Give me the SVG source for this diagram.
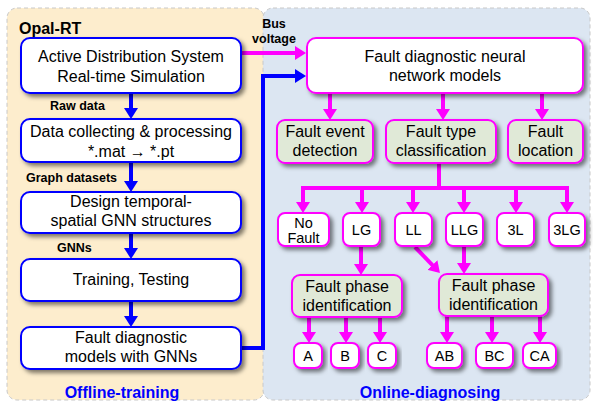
<svg xmlns="http://www.w3.org/2000/svg" width="595" height="405" viewBox="0 0 595 405">
<style>
text{font-family:"Liberation Sans",Arial,sans-serif;fill:#000;text-anchor:middle}
.t{font-size:16px}
.s{font-size:14.5px}
.lb{font-size:12.5px;font-weight:bold;text-anchor:start}
.hd{font-size:16px;font-weight:bold}
.bn{fill:#fff;stroke:#0000ff;stroke-width:2;filter:url(#sh)}
.mn{fill:#fff;stroke:#ff00ff;stroke-width:2;filter:url(#sh)}
.gn{fill:#e0e9d7;stroke:#ff00ff;stroke-width:2;filter:url(#sh)}
.bl{fill:none;stroke:#0000ff;stroke-width:4}
.mg{fill:none;stroke:#ff00ff;stroke-width:4}
</style>
<defs>
<filter id="sh" x="-20%" y="-20%" width="140%" height="150%">
<feDropShadow dx="3" dy="3" stdDeviation="2" flood-color="#000" flood-opacity="0.5"/>
</filter>
<marker id="ab" viewBox="0 0 11 14" refX="7" refY="7" markerWidth="11" markerHeight="14" markerUnits="userSpaceOnUse" orient="auto">
<path d="M0,0 L11,7 L0,14 z" fill="#0000ff"/>
</marker>
<marker id="am" viewBox="0 0 11 14" refX="7" refY="7" markerWidth="11" markerHeight="14" markerUnits="userSpaceOnUse" orient="auto">
<path d="M0,0 L11,7 L0,14 z" fill="#ff00ff"/>
</marker>
</defs>
<rect width="595" height="405" fill="#fff"/>
<g id="panel-offline">
<rect x="7" y="8" width="257" height="392" rx="10" fill="#fdedcd" stroke="#c8c8c8" stroke-dasharray="4,3"/>
<text class="hd" x="19" y="34" style="text-anchor:start">Opal-RT</text>
<text class="hd" x="122" y="398" style="fill:#0000ff">Offline-training</text>
</g>
<g id="panel-online">
<rect x="263" y="8" width="327" height="392" rx="10" fill="#dce6f2" stroke="#c8c8c8" stroke-dasharray="4,3"/>
<text class="hd" x="430" y="398" style="fill:#0000ff">Online-diagnosing</text>
</g>
<g id="connectors">
<path class="bl" d="M131,93 V115" marker-end="url(#ab)"/>
<path class="bl" d="M131,162 V188" marker-end="url(#ab)"/>
<path class="bl" d="M131,233 V255" marker-end="url(#ab)"/>
<path class="bl" d="M131,301 V323" marker-end="url(#ab)"/>
<path class="bl" d="M241,348 H263 V76 H302" marker-end="url(#ab)"/>
<path class="mg" d="M241,53 H302" marker-end="url(#am)"/>
<path class="mg" d="M330,93 V116" marker-end="url(#am)"/>
<path class="mg" d="M443,93 V116" marker-end="url(#am)"/>
<path class="mg" d="M542,93 V116" marker-end="url(#am)"/>
<path class="mg" d="M439,163 V188 M301,188 H569"/>
<path class="mg" d="M303,188 V209" marker-end="url(#am)"/>
<path class="mg" d="M362,188 V209" marker-end="url(#am)"/>
<path class="mg" d="M413,188 V209" marker-end="url(#am)"/>
<path class="mg" d="M464,188 V209" marker-end="url(#am)"/>
<path class="mg" d="M516,188 V209" marker-end="url(#am)"/>
<path class="mg" d="M567,188 V209" marker-end="url(#am)"/>
<path class="mg" d="M361,246 V271" marker-end="url(#am)"/>
<path class="mg" d="M464,246 V270" marker-end="url(#am)"/>
<path class="mg" d="M415,247 L437.2,270.1" marker-end="url(#am)"/>
<path class="mg" d="M309,317 V339" marker-end="url(#am)"/>
<path class="mg" d="M346,317 V339" marker-end="url(#am)"/>
<path class="mg" d="M380,317 V339" marker-end="url(#am)"/>
<path class="mg" d="M447,316 V339" marker-end="url(#am)"/>
<path class="mg" d="M492,316 V339" marker-end="url(#am)"/>
<path class="mg" d="M540,316 V339" marker-end="url(#am)"/>
<text class="lb" x="50" y="110">Raw data</text>
<text class="lb" x="26" y="182">Graph datasets</text>
<text class="lb" x="57" y="252">GNNs</text>
<text class="lb" x="274" y="28" style="text-anchor:middle">Bus</text>
<text class="lb" x="274" y="43" style="text-anchor:middle">voltage</text>
</g>
<g id="n-ads">
<rect class="bn" x="21" y="38" width="220" height="55" rx="9"/>
<text class="t" x="131" y="62">Active Distribution System</text>
<text class="t" x="131" y="82">Real-time Simulation</text>
</g>
<g id="n-data">
<rect class="bn" x="21" y="119" width="220" height="43" rx="9"/>
<text class="t" x="131" y="137">Data collecting &amp; processing</text>
<text class="t" x="131" y="157">*.mat → *.pt</text>
</g>
<g id="n-design">
<rect class="bn" x="21" y="192" width="220" height="41" rx="9"/>
<text class="t" x="131" y="207">Design temporal-</text>
<text class="t" x="131" y="226">spatial GNN structures</text>
</g>
<g id="n-train">
<rect class="bn" x="21" y="259" width="220" height="42" rx="9"/>
<text class="t" x="131" y="285">Training, Testing</text>
</g>
<g id="n-models">
<rect class="bn" x="21" y="327" width="220" height="42" rx="9"/>
<text class="t" x="131" y="343">Fault diagnostic</text>
<text class="t" x="131" y="362">models with GNNs</text>
</g>
<g id="n-nn">
<rect class="mn" x="307" y="38" width="276" height="55" rx="9"/>
<text class="t" x="445" y="62">Fault diagnostic neural</text>
<text class="t" x="445" y="81">network models</text>
</g>
<g id="n-event">
<rect class="gn" x="277" y="120" width="96" height="43" rx="8"/>
<text class="t" x="325" y="137">Fault event</text>
<text class="t" x="325" y="156">detection</text>
</g>
<g id="n-type">
<rect class="gn" x="386" y="120" width="110" height="43" rx="8"/>
<text class="t" x="441" y="137">Fault type</text>
<text class="t" x="441" y="156">classification</text>
</g>
<g id="n-loc">
<rect class="gn" x="508" y="120" width="75" height="43" rx="8"/>
<text class="t" x="545.5" y="137">Fault</text>
<text class="t" x="545.5" y="156">location</text>
</g>
<g id="n-nofault">
<rect class="mn" x="278" y="213" width="51" height="33" rx="7"/>
<text class="s" x="303.5" y="228">No</text>
<text class="s" x="303.5" y="243">Fault</text>
</g>
<g id="n-lg">
<rect class="mn" x="343" y="213" width="37" height="33" rx="7"/>
<text class="s" x="361.5" y="235">LG</text>
</g>
<g id="n-ll">
<rect class="mn" x="395" y="213" width="37" height="33" rx="7"/>
<text class="s" x="413.5" y="235">LL</text>
</g>
<g id="n-llg">
<rect class="mn" x="446" y="213" width="37" height="33" rx="7"/>
<text class="s" x="464.5" y="235">LLG</text>
</g>
<g id="n-3l">
<rect class="mn" x="497" y="213" width="37" height="33" rx="7"/>
<text class="s" x="515.5" y="235">3L</text>
</g>
<g id="n-3lg">
<rect class="mn" x="549" y="213" width="36" height="33" rx="7"/>
<text class="s" x="567" y="235">3LG</text>
</g>
<g id="n-fpi1">
<rect class="gn" x="292" y="275" width="110" height="42" rx="8"/>
<text class="t" x="347" y="292">Fault phase</text>
<text class="t" x="347" y="311">identification</text>
</g>
<g id="n-fpi2">
<rect class="gn" x="439" y="274" width="109" height="42" rx="8"/>
<text class="t" x="493.5" y="291">Fault phase</text>
<text class="t" x="493.5" y="310">identification</text>
</g>
<g id="n-a">
<rect class="mn" x="294" y="343" width="28" height="25" rx="7"/>
<text class="s" x="308" y="361">A</text>
</g>
<g id="n-b">
<rect class="mn" x="331" y="343" width="28" height="25" rx="7"/>
<text class="s" x="345" y="361">B</text>
</g>
<g id="n-c">
<rect class="mn" x="368" y="343" width="28" height="25" rx="7"/>
<text class="s" x="382" y="361">C</text>
</g>
<g id="n-ab">
<rect class="mn" x="427" y="343" width="35" height="25" rx="7"/>
<text class="s" x="444.5" y="361">AB</text>
</g>
<g id="n-bc">
<rect class="mn" x="476" y="343" width="37" height="25" rx="7"/>
<text class="s" x="494.5" y="361">BC</text>
</g>
<g id="n-ca">
<rect class="mn" x="523" y="343" width="33" height="25" rx="7"/>
<text class="s" x="539.5" y="361">CA</text>
</g>
</svg>
